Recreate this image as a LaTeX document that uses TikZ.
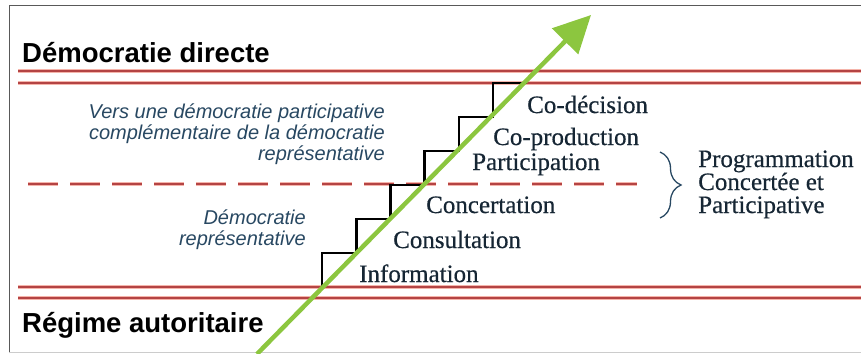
\documentclass[tikz,border=0pt]{standalone}
\usepackage{fontspec}
\setmainfont{Liberation Serif}
\setsansfont{Liberation Sans}
\newfontfamily\levelfont[FakeBold=0.5]{Liberation Serif}
\usetikzlibrary{arrows.meta,decorations.pathreplacing}
\definecolor{arrowgreen}{RGB}{140,198,63}
\definecolor{redcore}{RGB}{180,68,68}
\definecolor{redhalo}{RGB}{245,180,170}
\definecolor{inktext}{RGB}{22,38,52}
\definecolor{notetext}{RGB}{40,72,98}
\begin{document}
\begin{tikzpicture}[
    x=1pt, y=-1pt,
    frameline/.style={draw=gray!70!black, line width=1pt},
    limitline/.style={draw=redcore, line width=1.5pt, preaction={draw=redhalo, line width=4pt}},
    dashedlimit/.style={draw=redcore, line width=1.5pt, dash pattern=on 30pt off 12pt,
        preaction={draw=redhalo, line width=4pt, dash pattern=on 30pt off 12pt}},
    titlebox/.style={anchor=base west, inner sep=0pt, font=\sffamily\bfseries\fontsize{27.5}{33}\selectfont},
    notebox/.style={align=right, anchor=base east, inner sep=0pt, text=notetext, font=\sffamily\itshape\fontsize{20}{21}\selectfont},
    levelbox/.style={anchor=base west, inner sep=0pt, text=inktext, font=\levelfont\fontsize{25}{25}\selectfont},
    groupbox/.style={align=left, anchor=base west, inner sep=0pt, text=inktext, font=\levelfont\fontsize{25}{23}\selectfont},
    stair/.style={draw=black, line width=2.6pt},
    progress/.style={draw=arrowgreen, line width=4.5pt, -{Triangle[length=37pt,width=36pt]}}
]
    \useasboundingbox (0,0) rectangle (861,353);

    % Frame
    \draw[frameline] (9,353) -- (9,6) -- (861,6);
    \draw[draw=gray!40, line width=1pt] (9,352) -- (861,352);

    % Limits between regimes
    \foreach \y in {71,83,287,298}
        \draw[limitline] (18,\y) -- (861,\y);
    \draw[dashedlimit] (28,184) -- (637,184);

    % Regimes
    \node[titlebox] (direct) at (22,63) {Démocratie directe};
    \node[titlebox] (autoritaire) at (22,332) {Régime autoritaire};

    % Notes on the left (base = last line)
    \node[notebox] (vers) at (385,160) {Vers une démocratie participative\\complémentaire de la démocratie\\représentative};
    \node[notebox] (representative) at (306,245) {Démocratie\\représentative};

    % Staircase
    \coordinate (stairbase) at (322,287);
    \draw[stair] (stairbase) \foreach \i in {1,...,6} { -- ++(0,-34) -- ++(34.2,0) };

    % Levels
    \node[levelbox] (information) at (359,282) {Information};
    \node[levelbox] (consultation) at (393,248) {Consultation};
    \node[levelbox] (concertation) at (426,213) {Concertation};
    \node[levelbox] (participation) at (472,170) {Participation};
    \node[levelbox] (coproduction) at (493,145) {Co-production};
    \node[levelbox] (codecision) at (527,113) {Co-décision};

    % Brace and group label
    \coordinate (bracetop) at (660,152);
    \coordinate (bracebot) at (660,218);
    \draw[draw=notetext, line width=1.3pt, decorate, decoration={brace, amplitude=21pt}] (bracetop) -- (bracebot);
    \node[groupbox] (programmation) at (698,213) {Programmation\\Concertée et\\Participative};

    % Progress arrow
    \coordinate (arrowstart) at (257,354);
    \coordinate (arrowtip) at (591,15);
    \draw[progress] (arrowstart) -- (arrowtip);
\end{tikzpicture}
\end{document}
